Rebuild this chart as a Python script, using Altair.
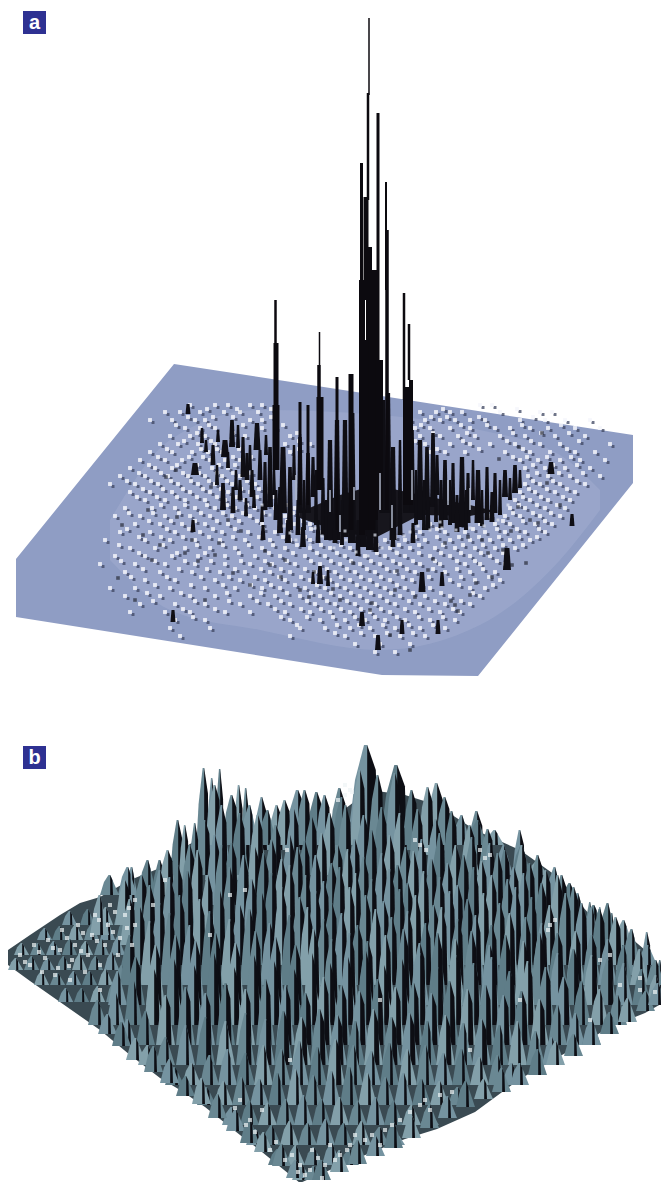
import altair as alt
import pandas as pd

# ---- panel a: plate outline (x, upper edge, lower edge)
plate_x = [16, 174, 382, 478, 633]
plate_top = [559, 364, 396, 411, 435]
plate_bot = [617, 642, 675, 676, 483]

# ---- panel a: lighter haze under the speckle field
haze_x = [110, 170, 260, 380, 480, 560, 600]
haze_top = [520, 440, 410, 415, 430, 455, 490]
haze_bot = [560, 610, 630, 650, 625, 560, 510]

# ---- panel a: pale specks, one entry per row
a_white = {
 405:[190,215,228,250,262,480,492],
 412:[165,180,200,224,240,258,420,436,450,462,500,540,552],
 420:[150,172,195,205,250,262,410,425,440,455,470,485,520,545,565,590],
 428:[185,200,215,262,275,415,430,450,470,495,510,530,548,575,600],
 436:[170,190,205,245,290,420,440,458,475,500,525,555,585],
 444:[160,178,198,215,285,310,425,450,470,490,515,540,560,610],
 452:[150,172,192,208,222,290,430,445,465,505,530,550,575,595],
 460:[140,165,182,210,225,240,520,538,560,580,605],
 468:[130,155,172,212,228,245,525,545,565,590],
 476:[120,145,168,188,205,222,240,528,548,570,600],
 484:[110,135,158,178,198,215,232,255,525,540,560,585],
 492:[130,150,172,190,210,228,250,268,520,535,555,575],
 500:[145,165,185,205,225,245,265,280,515,530,548,570],
 508:[125,152,175,195,215,235,255,275,295,510,525,545,565],
 516:[115,140,165,190,210,232,250,285,300,490,505,520,540,560],
 524:[135,160,182,205,228,262,295,310,430,460,480,495,510,535,552],
 532:[120,150,175,200,222,248,275,300,320,400,420,445,465,485,505,525,545],
 540:[105,145,170,195,220,245,270,290,310,335,385,405,425,450,470,490,510,530],
 548:[130,155,185,210,235,262,285,310,330,350,370,390,410,435,455,475,495,515],
 556:[115,145,172,198,225,255,280,305,325,345,365,385,405,430,450,470,490],
 564:[100,135,165,195,225,250,272,295,320,340,360,380,400,420,440,465,480,505],
 572:[125,160,192,220,245,270,290,315,335,355,375,395,415,445,470,495],
 580:[145,175,215,240,265,285,310,330,350,370,390,412,450,475,500],
 588:[110,135,170,205,235,262,280,305,325,345,365,385,405,430,470,485],
 596:[125,160,190,215,250,275,300,320,340,360,380,400,425,450,480],
 604:[140,175,205,240,268,290,315,335,355,375,395,420,445,470],
 612:[130,165,190,225,250,285,310,330,350,370,390,415,440,460],
 620:[175,205,290,320,345,365,385,405,430,455],
 628:[170,210,300,325,350,370,395,420,445],
 636:[180,290,345,375,400,425],
 644:[355,380,410],
 652:[375,395],
}
# second, offset pass over the denser inner part of the speckle field
a_white2 = {
 409:[207,237,271,443,517],
 417:[188,213,233,271,431,447,479,533],
 425:[176,209,243,283,421,461,487,522,561],
 433:[197,233,297,433,467,513,541,569],
 441:[184,211,231,299,415,463,507,531,579],
 449:[167,201,217,239,299,437,479,523,567],
 457:[158,189,203,233,251,513,527,547,571],
 465:[149,177,197,219,235,533,553,577],
 473:[139,161,183,199,217,233,251,537,559,583],
 481:[127,151,171,191,209,227,247,533,553,577],
 489:[143,163,183,203,221,241,259,529,547,567],
 497:[137,157,177,197,217,237,257,273,523,541,563],
 505:[161,185,207,227,247,267,287,519,537,557],
 513:[129,153,179,201,223,243,263,293,513,533,551],
 521:[149,171,195,217,239,257,287,303,503,523,545],
 529:[127,167,189,213,235,263,289,311,413,437,473,497,517,539],
 537:[139,161,183,209,233,259,283,305,327,395,415,437,459,479,499,519,537],
 545:[119,163,197,223,249,273,297,321,341,377,399,419,443,463,483,503,523],
 553:[139,177,205,239,269,293,317,337,357,377,397,419,441,461,481,503],
 561:[121,155,185,211,241,265,287,311,331,351,371,393,413,435,457,475,497],
 569:[143,179,207,235,261,281,305,327,347,367,387,407,433,457,483],
 577:[131,167,201,229,255,279,301,323,341,361,381,403,429,461,489],
 585:[155,191,223,251,271,295,317,337,357,377,397,421,459,493],
 593:[147,181,227,261,287,311,331,351,371,391,413,441,473],
 601:[153,195,229,257,281,307,327,347,367,387,409,435,461],
 609:[183,215,275,301,321,341,361,381,405,429,453],
 617:[193,281,307,333,355,375,397,419,443],
 625:[297,337,359,383,409,433],
 633:[335,361,387,413],
}
a_dark_x = [188,202,122,148,193,192,173,205,135,263,228,185,152,118,551,538,507,422,362,378,402,438,442,415,492,572,518,482,468,445,542,
            320,326,314,512,503,428,370,390,410,455,340,300,270,215,160,250,285,395,470,530,560,176,240,
            211,166,143,198,233,219,246,265,281,177,241,309,333,353,372,397,433,458,488,511,526,547,519,499,476,451]
a_dark_y = [410,433,525,510,527,540,617,600,600,533,520,553,560,578,468,523,557,582,620,643,627,627,580,597,577,520,507,540,537,543,433,
            575,578,572,565,550,570,610,635,650,605,600,590,565,555,545,585,560,590,595,520,505,470,500,
            487,477,535,561,573,543,507,551,577,517,531,597,589,563,603,571,559,611,553,531,563,483,447,459,583,601]

# ---- panel a: backdrop under the thickest part of the forest
forest_x = [300, 340, 375, 420, 470, 490]
forest_top = [512, 495, 485, 495, 505, 510]
forest_bot = [518, 532, 538, 515, 516, 512]

# ---- panel a: trees (x, top, base, width)
a_trees = [
 (232,420,447,6),(202,428,443,4),(195,463,475,8),(225,440,457,8),(257,423,450,7),(243,437,477,5),(247,453,480,5),
 (260,450,480,5),(270,447,507,6),(223,483,510,6),(233,487,513,5),(283,447,513,8),(290,467,530,6),(300,437,513,6),
 (308,453,513,6),(313,457,497,5),(280,487,533,6),(288,520,543,6),(330,440,540,7),(337,420,540,7),(345,420,537,7),
 (352,413,543,8),(363,473,547,8),(370,447,550,8),(393,447,540,7),(383,400,513,7),(388,393,513,7),(407,387,513,8),
 (412,430,513,6),(420,440,520,7),(427,447,510,6),(433,433,507,6),(445,460,520,6),(453,463,523,5),(462,457,527,7),
 (468,473,523,5),(478,470,523,7),(487,467,520,5),(495,473,513,5),(505,470,497,6),(515,465,493,6),(393,530,547,5),
 (413,523,543,5),(318,520,543,5),(303,527,547,6),(335,513,543,5),
 (437,455,495,5),(441,480,528,5),(473,460,500,4),(492,492,522,5),(252,470,497,5),(265,462,510,5),(276,490,520,5),
 (298,500,535,5),(323,478,535,5),(358,520,556,5),(376,515,552,5),(400,495,535,5),(428,500,530,5),(457,495,532,5),
 (240,480,500,5),(213,445,465,5),(238,425,448,4),(250,445,470,4),(217,465,485,4),
 (206,440,452,4),(218,430,442,4),(228,452,468,4),(236,470,490,4),(266,435,455,4),(274,470,495,4),(254,490,508,4),
 (246,498,516,4),(262,505,522,4),(294,445,480,4),(304,480,530,4),(316,470,525,4),(326,500,540,4),(342,500,545,4),
 (400,440,500,4),(416,470,525,4),(424,480,530,4),(436,490,522,4),(450,480,525,4),(466,490,530,4),(482,490,526,4),
 (500,480,515,4),(510,478,500,4),(520,470,488,4),
 # small clumps on the plate
 (188,404,414,5),(320,566,584,6),(328,570,586,4),(313,572,584,4),(507,548,570,8),(422,572,592,7),(551,462,474,7),
 (362,612,626,6),(378,635,650,6),(442,572,586,5),(193,520,532,5),(438,620,634,5),(402,620,634,5),(173,610,622,5),
 (263,525,540,5),(572,514,526,5),
]
# ---- panel a: tall spikes (x, top, base, width)
a_spikes = [
 (369,18,95,1.5),(368,93,200,2.5),(378,113,510,3),(361.5,163,290,3),(366,197,300,5),(386,182,290,2),(387,230,510,3.5),
 (369,247,530,6),(362,280,535,6),(375,270,520,6),(364,340,530,8),(372,340,530,7),(380,360,510,6),
 (404,293,400,2.5),(409,324,380,2.5),(406,387,505,6),(411,380,505,4),(275.5,300,343,2.5),(276,343,405,5),(276,405,470,7),
 (319.5,332,365,1.5),(319,365,397,3.5),(320,397,490,7),(337,377,530,3),(300,402,505,3),(308,405,505,3),(351,374,530,5),
]
a_gaps_x = [380,354,412,330,296,448,470,340,392]
a_gaps_top = [473,487,470,490,475,480,488,515,505]
a_gaps_base = [510,500,500,512,500,505,510,532,528]

# ---- pale specks laid over the front rim of the forest
a_rim_x = [270,284,296,310,322,334,346,356,368,382,396,404,418,430,442,456,470,484,498,508,262,290,315,345,375,410,440]
a_rim_y = [515,526,540,545,536,548,540,552,556,548,552,536,526,530,528,530,528,526,520,505,505,533,528,531,535,532,522]

# ---- panel b: surface outline
b_x   = [8,30,60,80,100,130,160,180,205,240,262,300,330,370,405,437,475,520,555,590,610,645,661]
b_top = [950,935,915,903,897,880,868,850,835,835,830,825,820,790,795,805,830,850,875,915,920,950,970]
b_bot = [965,981,1002,1016,1030,1055,1078,1090,1107,1135,1152,1183,1170,1153,1139,1129,1112,1079,1059,1039,1027,1013,1004]

# ---- panel b: back ridge peaks (x, tip, base, half width)
b_back = [
 (298,790,850,14),(317,792,850,12),(277,805,850,10),(340,788,850,12),
 (367,745,845,20),(397,765,850,18),(437,783,855,14),(477,811,870,12),(520,830,890,9),(552,877,920,8),(577,895,940,7),
 (204,768,870,9),(212,778,880,7),(220,769,890,7),(239,785,880,8),(246,788,890,7),(262,797,850,9),(178,820,890,9),
 (185,825,890,7),(195,823,890,7),(132,867,910,9),(160,860,910,10),(100,895,935,10),
 (590,902,945,6),(600,907,950,6),(612,913,955,6),(622,932,970,6),(633,935,975,6),(647,932,985,7),(660,960,995,6),
]

# ---- panel b: rows of peaks, front rows last (base, xs, heights)
b_rows = [
 (845,[215,232,250,268,285,305,325,342,360,378,395,412,428,445,462,478,495],
      [60,50,40,35,45,55,50,48,75,70,72,55,58,48,30,25,15]),
 (875,[205,222,240,258,276,294,312,330,346,364,382,400,418,436,452,470,488,504,522,538],
      [55,70,62,60,50,66,58,62,70,60,68,62,66,56,64,50,46,30,30,15]),
 (895,[110,128,148,168],[20,28,35,45]),
 (905,[190,215,232,255,272,290,305,322,338,355,372,390,406,422,440,456,472,490,505,522,538,555,570],
      [60,70,62,58,65,70,64,72,60,66,75,70,58,66,72,60,68,62,55,60,50,38,22]),
 (925,[125,142,160,178,198,222,244,264,282,298,316,332,348,364,382,398,414,432,448,464,482,498,514,530,546,562,578,594],
      [45,50,55,60,75,80,70,72,66,78,70,62,76,68,72,60,74,66,62,70,64,72,58,62,55,50,32,20]),
 (945,[130,150,170,188,208,230,252,272,290,306,324,340,356,372,390,408,424,440,458,474,492,508,524,542,558,574,592,608,624],
      [46,60,68,74,70,78,66,72,80,70,64,78,72,66,76,62,74,68,60,78,70,66,72,62,70,58,38,42,25]),
 (965,[140,160,180,200,220,240,262,282,300,316,332,350,366,384,400,416,434,450,468,484,500,516,532,550,566,582,600,616,632,648],
      [58,62,70,66,74,60,72,78,68,74,62,78,70,64,76,70,60,74,66,72,62,78,68,60,72,62,56,48,36,20]),
 (985,[130,150,170,190,210,230,250,270,290,308,324,342,358,376,392,408,426,442,458,476,492,510,526,542,558,576,592,608,624,640,656],
      [50,64,72,60,74,66,76,62,70,78,66,72,60,76,68,74,62,78,66,70,60,72,68,62,52,54,50,46,40,36,25]),
 (1005,[118,136,156,176,196,216,236,256,276,296,314,332,350,368,386,404,420,438,456,472,490,506,524,540,558,574,592,608,624,642,656],
      [34,48,60,70,64,72,62,74,68,60,76,66,72,64,70,76,62,72,66,74,60,70,64,72,52,56,50,46,42,36,30]),
 (1025,[98,116,134,154,174,194,214,234,254,274,294,312,330,348,366,384,402,420,438,456,474,492,510,528,546,564,582,600,618],
      [25,32,44,56,66,60,72,58,70,64,56,72,62,68,74,60,66,72,58,70,62,68,54,64,58,48,44,36,30]),
 (1045,[128,146,166,186,206,226,246,266,286,306,324,342,360,378,396,414,432,450,468,486,504,522,540,558,576,592],
      [26,34,50,58,52,62,56,66,60,52,68,60,54,66,58,62,52,64,56,60,50,54,46,40,32,24]),
 (1065,[148,166,186,206,226,246,266,284,302,320,338,356,374,392,410,428,446,464,482,500,518,536,552],
      [20,28,40,48,44,52,46,54,48,56,50,44,56,48,52,44,50,42,46,40,44,34,28]),
 (1085,[175,192,210,228,246,264,282,300,318,336,354,372,390,408,426,444,462,480,498,512],
      [18,22,30,36,32,40,36,44,38,46,40,34,42,36,40,32,36,28,30,22]),
 (1105,[207,224,242,260,278,296,314,332,350,368,386,404,422,440,458],
      [18,24,28,26,32,36,30,34,38,32,28,32,26,24,18]),
 (1125,[232,250,268,286,304,322,340,358,376,394,412,430],
      [18,24,22,26,30,26,28,24,28,24,20,14]),
 (1145,[256,272,290,308,326,344,362,380,396],
      [16,20,24,22,26,22,24,18,14]),
 (1165,[278,296,314,332,350],[16,20,18,22,16]),
 (1180,[302,314],[16,14]),
]
# ---- panel b: low peaks along the two front edges
b_edge_x = [108,122,136,154,170,186,202,218,236,250,264,282,296,322,340,358,376,394,412,430,448,466,484,502,520,538,556,574,592,610,628,646,658]
b_edge_y = [1034,1046,1060,1072,1083,1096,1104,1118,1131,1143,1152,1166,1178,1180,1172,1164,1156,1148,1138,1128,1118,1107,1099,1092,1085,1075,1065,1056,1045,1034,1022,1011,1005]
b_edge_h = [20,24,22,26,24,20,26,24,22,24,20,22,18,20,22,24,20,26,22,24,22,26,20,24,22,26,24,22,26,22,24,20,22]

# ---- panel b: low rippled corner on the left (base, xs, heights)
b_corner = [
 (925,[70,88,106,122],[14,16,18,20]),
 (940,[45,60,76,92,108,124],[12,14,16,16,18,20]),
 (955,[22,38,54,70,86,102,118,134],[12,12,14,16,14,16,18,22]),
 (970,[16,32,48,64,80,96,112,128],[12,14,12,14,16,14,18,22]),
 (985,[42,58,74,90,106,122],[14,12,14,14,16,20]),
 (1002,[66,82,98,114],[14,14,16,20]),
]
b_white_x = [20,34,48,62,78,95,110,30,45,60,75,92,108,125,42,58,72,88,105,120,135,70,85,100,118,132,100,
             25,39,53,67,83,99,115,129,55,69,81,97,113,127,
             250,262,240,255,270,285,300,312,325,340,350,365,385,400,420,430,440,380,305,330,355,
             235,246,276,292,318,335,347,372,392,410,425,452,310,298,322,
             165,135,153,230,245,287,345,350,415,480,490,550,555,600,620,640,210,380,290,520,590,470,
             345,338,352,420,426,485,548,610,640,655]
b_white_y = [955,945,940,930,925,915,905,965,958,950,945,935,925,915,972,968,960,955,945,938,925,980,972,965,955,945,990,
             962,952,948,938,933,920,912,908,975,966,951,941,932,928,
             1120,1110,1100,1132,1150,1160,1165,1150,1165,1155,1145,1140,1130,1120,1105,1110,1095,1145,1175,1145,1135,
             1108,1125,1142,1155,1158,1160,1150,1135,1125,1112,1100,1092,1170,1172,1178,
             880,900,905,895,890,850,785,790,840,850,855,925,920,960,985,990,935,1000,1060,1000,1020,1050,
             795,800,792,845,850,858,930,955,978,992]

labels = ["a", "b"]
label_x = [34.5, 34.5]
label_y = [22.5, 757.5]

X = alt.X("x:Q", axis=None, scale=alt.Scale(domain=[8, 661], nice=False, zero=False))
Y = alt.Y("y:Q", axis=None, scale=alt.Scale(domain=[1182, 8], nice=False, zero=False))

plate = alt.Chart(pd.DataFrame({"x": plate_x, "y": plate_top, "y2": plate_bot})).mark_area(
    color="#8f9dc4", orient="vertical").encode(x=X, y=Y, y2="y2:Q")
haze = alt.Chart(pd.DataFrame({"x": haze_x, "y": haze_top, "y2": haze_bot})).mark_area(
    color="#cdd5ea", opacity=0.16, orient="vertical", interpolate="monotone").encode(x=X, y=Y, y2="y2:Q")

wrows = [(x, y) for y, xs in a_white.items() for x in xs]
wrows2 = [(x, y) for y, xs in a_white2.items() for x in xs]
white_a = alt.Chart(pd.DataFrame(wrows + wrows2, columns=["x", "y"])).mark_square(
    color="#f4f6fb", size=15, opacity=0.85).encode(x=X, y=Y)
# a shadow sits just off each pale speck, so the field reads as relief
shadow_a = alt.Chart(pd.DataFrame([(x + 3, y + 2.5) for x, y in wrows + wrows2], columns=["x", "y"])).mark_square(
    color="#3e4560", size=9, opacity=0.75).encode(x=X, y=Y)
dark_a = alt.Chart(pd.DataFrame({"x": a_dark_x, "y": a_dark_y})).mark_square(
    color="#2a2d3a", size=13).encode(x=X, y=Y)

backdrop = alt.Chart(pd.DataFrame({"x": forest_x, "y": forest_top, "y2": forest_bot})).mark_area(
    color="#17161d", orient="vertical").encode(x=X, y=Y, y2="y2:Q")

tree_rows = []
for i, (px, top, base, w) in enumerate(a_trees):
    tree_rows += [(i, px - w / 2, base, base), (i, px - w * 0.3, top, base),
                  (i, px + w * 0.3, top, base), (i, px + w / 2, base, base)]
trees = alt.Chart(pd.DataFrame(tree_rows, columns=["id", "x", "y", "y2"])).mark_area(
    color="#0f0e14", orient="vertical").encode(x=X, y=Y, y2="y2:Q", detail="id:N")

spikes = alt.Chart(pd.DataFrame(a_spikes, columns=["x", "y", "y2", "w"])).mark_rule(color="#0c0a0f").encode(
    x=X, y=Y, y2="y2:Q", size=alt.Size("w:Q", scale=None))
gaps = alt.Chart(pd.DataFrame({"x": a_gaps_x, "y": a_gaps_top, "y2": a_gaps_base})).mark_rule(
    color="#aeb6c8", size=1.5).encode(x=X, y=Y, y2="y2:Q")
rim = alt.Chart(pd.DataFrame({"x": a_rim_x, "y": a_rim_y})).mark_square(
    color="#dfe4f0", size=9).encode(x=X, y=Y)

surface = alt.Chart(pd.DataFrame({"x": b_x, "y": b_top, "y2": b_bot})).mark_area(
    color="#3a4a52", orient="vertical").encode(x=X, y=Y, y2="y2:Q")


def peak_rows(peaks, start):
    teal = ["#7593a0", "#5f7d88", "#83a0aa", "#6a8893"]
    out = []
    for k, (px, tip, base, w) in enumerate(peaks):
        i = start + k
        c = teal[i % 4]
        h = base - tip
        d = 0.55 if h >= 45 else 0.3  # low front peaks show only a thin shadow
        out += [(f"{i}a", px - w, base, base, c), (f"{i}a", px - 0.6 * w, tip + 0.35 * h, base, c),
                (f"{i}a", px - 0.15 * w, tip, base, c), (f"{i}a", px + 0.3, tip, base, c),
                (f"{i}a", px + 0.9 * w, base, base, c)]
        out += [(f"{i}b", px + 0.2, tip, base, "#0d0e14"), (f"{i}b", px + 0.8 * d * w, tip + 0.25 * h, base, "#0d0e14"),
                (f"{i}b", px + d * w, base, base, "#0d0e14")]
    return out


peaks = list(b_back)
for base, xs, hs in b_rows:
    peaks += [(px, base - ph, base, 10) for px, ph in zip(xs, hs)]
corner = []
for base, xs, hs in b_corner:
    corner += [(px, base - ph, base, 8) for px, ph in zip(xs, hs)]
edge = [(px, py - ph, py, 10) for px, py, ph in zip(b_edge_x, b_edge_y, b_edge_h)]

# draw the low corner first, so the tall rows overlap it
peak_df = pd.DataFrame(peak_rows(corner, 0) + peak_rows(peaks, len(corner)) + peak_rows(edge, len(corner) + len(peaks)),
                       columns=["id", "x", "y", "y2", "c"])
ridge = alt.Chart(peak_df).mark_area(orient="vertical").encode(
    x=X, y=Y, y2="y2:Q", detail="id:N", color=alt.Color("c:N", scale=None))

white_b = alt.Chart(pd.DataFrame({"x": b_white_x, "y": b_white_y})).mark_square(
    color="#eef3f5", size=16).encode(x=X, y=Y)

box = alt.Chart(pd.DataFrame({"x": label_x, "y": label_y})).mark_square(
    color="#2e3192", size=529, opacity=1).encode(x=X, y=Y)
text = alt.Chart(pd.DataFrame({"x": label_x, "y": label_y, "t": labels})).mark_text(
    color="white", font="Liberation Sans", fontWeight="bold", fontSize=20,
    align="center", baseline="middle").encode(x=X, y=Y, text="t:N")

chart = alt.layer(plate, haze, shadow_a, white_a, dark_a, backdrop, trees, spikes, gaps, rim,
                  surface, ridge, white_b, box, text).properties(
    width=653, height=1174, padding=0, background="white",
    autosize=alt.AutoSizeParams(type="none")
).configure_view(stroke=None)

chart.save("out.html", embed_options={"renderer": "svg", "actions": False})
